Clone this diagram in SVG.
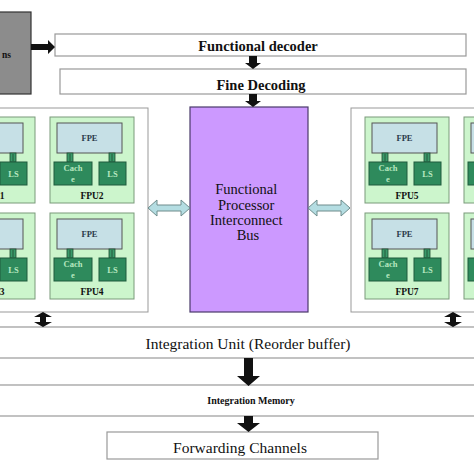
<svg xmlns="http://www.w3.org/2000/svg" width="474" height="474" viewBox="0 0 474 474">
<style>
.bar{fill:#fff;stroke:#999;stroke-width:1.2}
.cont{fill:#fff;stroke:#999;stroke-width:1}
.fpu{fill:#ccf5cc;stroke:#7a9a7a;stroke-width:1}
.fpe{fill:#c6e0e6;stroke:#555;stroke-width:1}
.dg{fill:#2e8a5c;stroke:#1f5a3c;stroke-width:1}
.conn{fill:#3a9a6a;stroke:#1f4a30;stroke-width:0.8}
.tb{font-family:"Liberation Serif",serif;font-weight:bold;fill:#111}
.ts{font-family:"Liberation Serif",serif;fill:#111}
.lbl{font-family:"Liberation Serif",serif;font-weight:bold;font-size:8.5px;fill:#2a3a4a;text-anchor:middle}
.lt{font-family:"Liberation Serif",serif;font-weight:bold;font-size:8.5px;fill:#b8e8c0;text-anchor:middle}
.fl{font-family:"Liberation Serif",serif;font-weight:bold;font-size:9.5px;fill:#111;text-anchor:middle}
.blk{fill:#111}
.da{fill:#b4dde2;stroke:#6e8c8c;stroke-width:1}
</style>
<defs>
<g id="fpuInner">
<rect class="fpu" x="0" y="0" width="84" height="86"/>
<rect class="fpe" x="7" y="6" width="65" height="30"/>
<text class="lbl" x="39.5" y="24">FPE</text>
<rect class="conn" x="17" y="36" width="6" height="9"/>
<line x1="20" y1="37" x2="20" y2="44" stroke="#1f4a30" stroke-width="0.8"/>
<rect class="conn" x="59" y="36" width="6" height="9"/>
<line x1="62" y1="37" x2="62" y2="44" stroke="#1f4a30" stroke-width="0.8"/>
<rect class="dg" x="4" y="45" width="38" height="23"/>
<text class="lt" x="23" y="54">Cach</text>
<text class="lt" x="23" y="65">e</text>
<rect class="dg" x="49" y="45" width="27" height="23"/>
<text class="lt" x="62.5" y="60">LS</text>
</g>
</defs>

<g id="instructions">
<rect x="-20" y="12" width="51" height="82" fill="#8c8c8c" stroke="#333" stroke-width="1.2"/>
<text class="tb" x="11" y="58" font-size="9.5" text-anchor="end">ns</text>
</g>

<g id="functional-decoder">
<rect class="bar" x="55" y="34" width="411" height="22"/>
<text class="tb" x="258" y="51" font-size="14.5" text-anchor="middle">Functional decoder</text>
</g>

<g id="fine-decoding">
<rect class="bar" x="60" y="69" width="406" height="25"/>
<text class="tb" x="261" y="90" font-size="14.5" text-anchor="middle">Fine Decoding</text>
</g>

<g id="left-cluster">
<rect class="cont" x="-63" y="108" width="211" height="204"/>
</g>
<g id="fpu1" transform="translate(-49,117)"><use href="#fpuInner"/><text class="fl" x="42" y="82">FPU1</text></g>
<g id="fpu2" transform="translate(50,117)"><use href="#fpuInner"/><text class="fl" x="42" y="82">FPU2</text></g>
<g id="fpu3" transform="translate(-49,213)"><use href="#fpuInner"/><text class="fl" x="42" y="82">FPU3</text></g>
<g id="fpu4" transform="translate(50,213)"><use href="#fpuInner"/><text class="fl" x="42" y="82">FPU4</text></g>

<g id="right-cluster">
<rect class="cont" x="351" y="108" width="200" height="204"/>
</g>
<g id="fpu5" transform="translate(365,117)"><use href="#fpuInner"/><text class="fl" x="42" y="82">FPU5</text></g>
<g id="fpu6" transform="translate(464,117)"><use href="#fpuInner"/></g>
<g id="fpu7" transform="translate(365,213)"><use href="#fpuInner"/><text class="fl" x="42" y="82">FPU7</text></g>
<g id="fpu8" transform="translate(464,213)"><use href="#fpuInner"/></g>

<g id="interconnect-bus">
<rect x="190" y="107" width="118" height="205" fill="#cc99ff" stroke="#4a3a6a" stroke-width="1.2"/>
<text class="ts" font-size="14.5" fill="#2a2a5a" text-anchor="middle">
<tspan x="248" y="194">Functional</tspan>
<tspan x="248" y="210">Processor</tspan>
<tspan x="248" y="225">Interconnect</tspan>
<tspan x="248" y="240">Bus</tspan>
</text>
</g>

<g id="integration-unit">
<rect class="bar" x="-5" y="327" width="484" height="31"/>
<text class="ts" x="248" y="349" font-size="15.5" text-anchor="middle">Integration Unit (Reorder buffer)</text>
</g>

<g id="integration-memory">
<rect class="bar" x="-5" y="385" width="484" height="31"/>
<text class="tb" x="251" y="404" font-size="10" text-anchor="middle">Integration Memory</text>
</g>

<g id="forwarding-channels">
<rect class="bar" x="107" y="432" width="271" height="27"/>
<text class="ts" x="240" y="453" font-size="15.5" text-anchor="middle">Forwarding Channels</text>
</g>

<g id="connectors">
<polygon class="blk" points="31,44 48,44 48,40 55,47 48,54 48,50 31,50"/>
<polygon class="blk" points="249,56 257,56 257,63 261,63 253,69 245,63 249,63"/>
<polygon class="blk" points="249,94 257,94 257,101 261,101 253,107 245,101 249,101"/>
<polygon class="da" points="148,208 157,200 157,205 181,205 181,200 190,208 181,216 181,211 157,211 157,216"/>
<polygon class="da" points="308,208 317,200 317,205 341,205 341,200 350,208 341,216 341,211 317,211 317,216"/>
<polygon class="blk" points="43,312 52,317 46,317 46,322 52,322 43,327 34,322 40,322 40,317 34,317"/>
<polygon class="blk" points="453,312 462,317 456,317 456,322 462,322 453,327 444,322 450,322 450,317 444,317"/>
<polygon class="blk" points="244,358 253,358 253,376 260,376 248.5,386 237,376 244,376"/>
<polygon class="blk" points="244,416 253,416 253,423 260,423 248.5,432 237,423 244,423"/>
</g>
</svg>
